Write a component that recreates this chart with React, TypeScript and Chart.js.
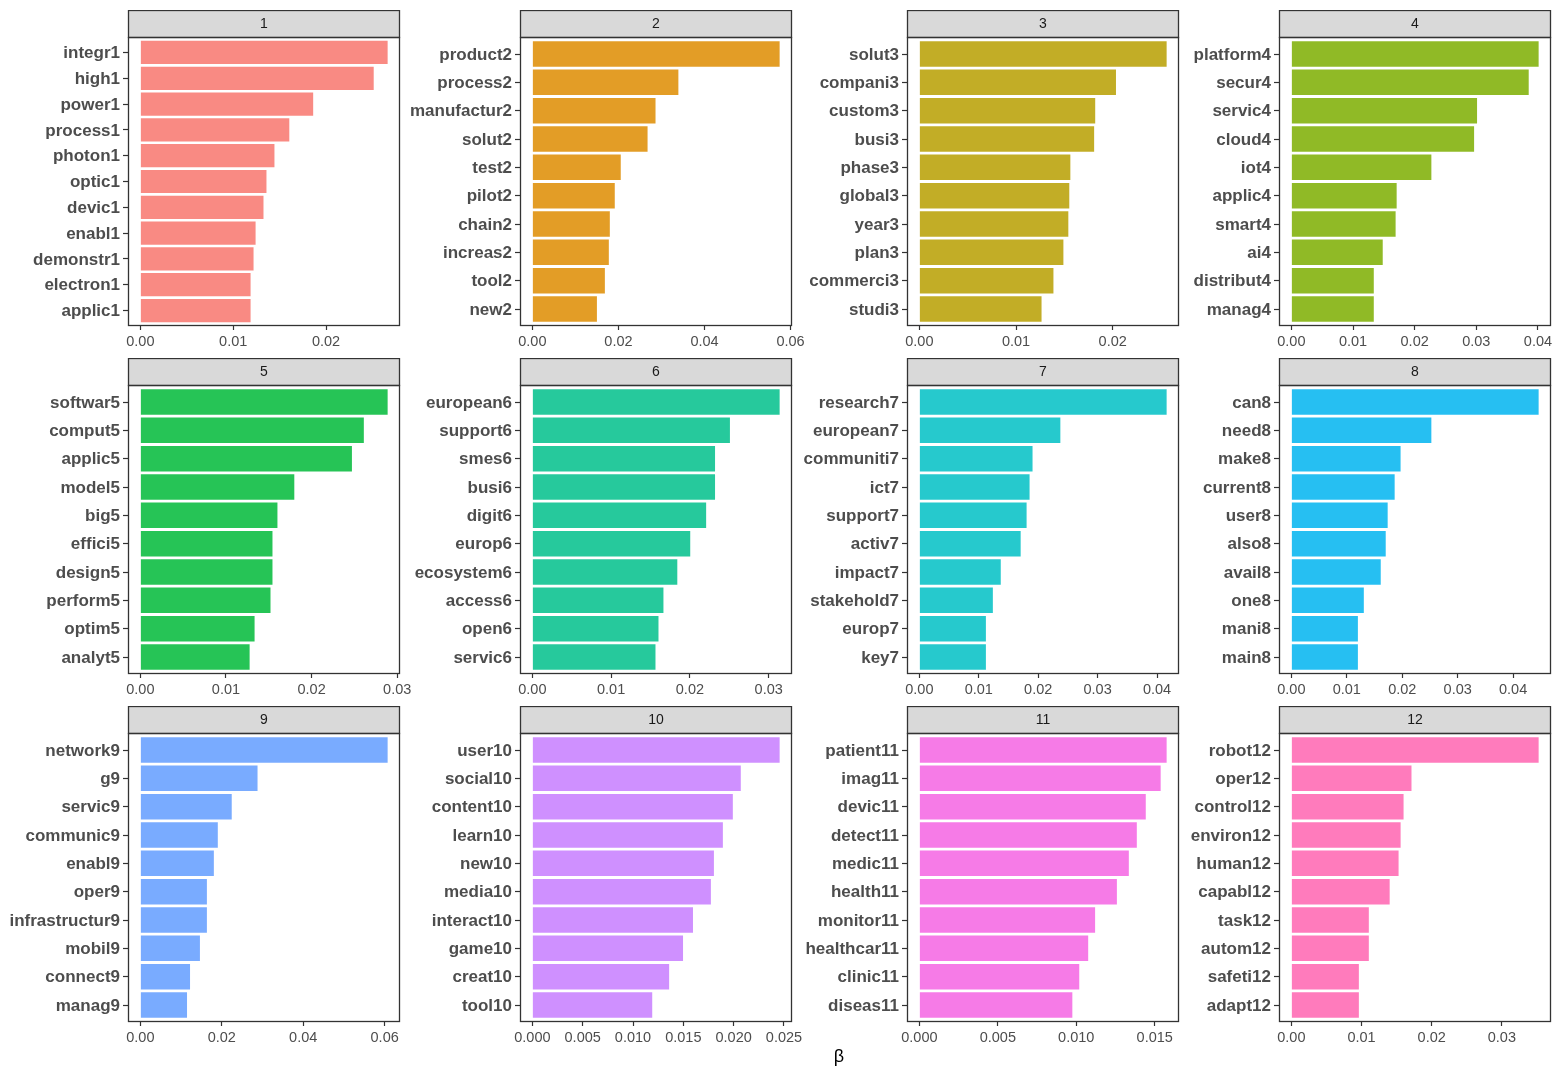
import React, { useEffect, useRef } from "react";
import { Chart, registerables } from "chart.js";
Chart.register(...registerables);

// ---------- data ----------
const topicNames = ["1", "2", "3", "4", "5", "6", "7", "8", "9", "10", "11", "12"];

const terms1 = ["integr1", "high1", "power1", "process1", "photon1", "optic1", "devic1", "enabl1", "demonstr1", "electron1", "applic1"];
const beta1 = [0.02663, 0.02513, 0.01861, 0.01604, 0.01444, 0.01358, 0.01326, 0.01241, 0.01219, 0.01187, 0.01187];

const terms2 = ["product2", "process2", "manufactur2", "solut2", "test2", "pilot2", "chain2", "increas2", "tool2", "new2"];
const beta2 = [0.05746, 0.03393, 0.02862, 0.02677, 0.02054, 0.01915, 0.018, 0.01777, 0.01685, 0.015];

const terms3 = ["solut3", "compani3", "custom3", "busi3", "phase3", "global3", "year3", "plan3", "commerci3", "studi3"];
const beta3 = [0.02558, 0.02034, 0.01819, 0.01808, 0.01562, 0.01551, 0.01541, 0.0149, 0.01387, 0.01264];

const terms4 = ["platform4", "secur4", "servic4", "cloud4", "iot4", "applic4", "smart4", "ai4", "distribut4", "manag4"];
const beta4 = [0.04011, 0.0385, 0.03012, 0.02964, 0.02271, 0.01708, 0.01691, 0.01482, 0.01337, 0.01337];

const terms5 = ["softwar5", "comput5", "applic5", "model5", "big5", "effici5", "design5", "perform5", "optim5", "analyt5"];
const beta5 = [0.02888, 0.0261, 0.02471, 0.01798, 0.01601, 0.01543, 0.01543, 0.0152, 0.01334, 0.01276];

const terms6 = ["european6", "support6", "smes6", "busi6", "digit6", "europ6", "ecosystem6", "access6", "open6", "servic6"];
const beta6 = [0.03139, 0.02508, 0.02319, 0.02319, 0.02206, 0.02004, 0.0184, 0.01664, 0.01601, 0.01563];

const terms7 = ["research7", "european7", "communiti7", "ict7", "support7", "activ7", "impact7", "stakehold7", "europ7", "key7"];
const beta7 = [0.04162, 0.02373, 0.01905, 0.01855, 0.01805, 0.01705, 0.0137, 0.01237, 0.0112, 0.0112];

const terms8 = ["can8", "need8", "make8", "current8", "user8", "also8", "avail8", "one8", "mani8", "main8"];
const beta8 = [0.0446, 0.02525, 0.0197, 0.01863, 0.01737, 0.01702, 0.01612, 0.01307, 0.012, 0.012];

const terms9 = ["network9", "g9", "servic9", "communic9", "enabl9", "oper9", "infrastructur9", "mobil9", "connect9", "manag9"];
const beta9 = [0.06073, 0.02878, 0.02244, 0.01902, 0.01805, 0.01634, 0.01634, 0.01463, 0.0122, 0.01146];

const terms10 = ["user10", "social10", "content10", "learn10", "new10", "media10", "interact10", "game10", "creat10", "tool10"];
const beta10 = [0.02457, 0.02071, 0.01992, 0.01893, 0.01804, 0.01774, 0.01596, 0.01497, 0.01359, 0.01191];

const terms11 = ["patient11", "imag11", "devic11", "detect11", "medic11", "health11", "monitor11", "healthcar11", "clinic11", "diseas11"];
const beta11 = [0.01576, 0.01538, 0.01443, 0.01386, 0.01335, 0.01259, 0.0112, 0.01076, 0.01019, 0.00975];

const terms12 = ["robot12", "oper12", "control12", "environ12", "human12", "capabl12", "task12", "autom12", "safeti12", "adapt12"];
const beta12 = [0.03524, 0.01712, 0.01599, 0.01557, 0.01528, 0.01401, 0.01104, 0.01104, 0.00962, 0.00962];

const ticks1 = [0, 0.01, 0.02];
const ticks2 = [0, 0.02, 0.04, 0.06];
const ticks3 = [0, 0.01, 0.02];
const ticks4 = [0, 0.01, 0.02, 0.03, 0.04];
const ticks5 = [0, 0.01, 0.02, 0.03];
const ticks6 = [0, 0.01, 0.02, 0.03];
const ticks7 = [0, 0.01, 0.02, 0.03, 0.04];
const ticks8 = [0, 0.01, 0.02, 0.03, 0.04];
const ticks9 = [0, 0.02, 0.04, 0.06];
const ticks10 = [0, 0.005, 0.01, 0.015, 0.02, 0.025];
const ticks11 = [0, 0.005, 0.01, 0.015];
const ticks12 = [0, 0.01, 0.02, 0.03];

const tickDecimals = [2, 2, 2, 2, 2, 2, 2, 2, 2, 3, 3, 2];

const xAxisTitle = "β";

const fills = [
  "rgba(248,118,109,0.85)",
  "rgba(222,140,0,0.85)",
  "rgba(183,159,0,0.85)",
  "rgba(124,174,0,0.85)",
  "rgba(0,186,56,0.85)",
  "rgba(0,192,139,0.85)",
  "rgba(0,191,196,0.85)",
  "rgba(0,180,240,0.85)",
  "rgba(97,156,255,0.85)",
  "rgba(199,124,255,0.85)",
  "rgba(245,100,227,0.85)",
  "rgba(255,100,176,0.85)",
];

const allTerms = [terms1, terms2, terms3, terms4, terms5, terms6, terms7, terms8, terms9, terms10, terms11, terms12];
const allBeta = [beta1, beta2, beta3, beta4, beta5, beta6, beta7, beta8, beta9, beta10, beta11, beta12];
const allTicks = [ticks1, ticks2, ticks3, ticks4, ticks5, ticks6, ticks7, ticks8, ticks9, ticks10, ticks11, ticks12];

// ---------- layout ----------
const FONT = "'Liberation Sans', Arial, Helvetica, sans-serif";
const STRIP_H = 27;
const PANEL_H = 289;
const PANEL_W = 272;
const XAXIS_H = 30;
const PAD_R = 18;
const colPanelLeft = [128, 520, 907, 1279];
const colLabelW = [124, 115, 110, 97];
const rowStripTop = [10, 358, 706];

const decoPlugin = (title: string) => ({
  id: "panelDeco",
  afterDraw(chart: any) {
    const { ctx, chartArea: a } = chart;
    const w = a.right - a.left;
    ctx.save();
    // strip
    ctx.fillStyle = "#D9D9D9";
    ctx.fillRect(a.left, a.top - STRIP_H, w, STRIP_H);
    ctx.strokeStyle = "#333333";
    ctx.lineWidth = 1.3;
    ctx.strokeRect(a.left + 0.5, a.top - STRIP_H + 0.5, w - 1, STRIP_H);
    // panel border
    ctx.strokeRect(a.left + 0.5, a.top + 0.5, w - 1, a.bottom - a.top - 1);
    // strip text
    ctx.fillStyle = "#1A1A1A";
    ctx.font = `14px ${FONT}`;
    ctx.textAlign = "center";
    ctx.textBaseline = "middle";
    ctx.fillText(title, (a.left + a.right) / 2, a.top - STRIP_H / 2 + 1);
    ctx.restore();
  },
});

function Panel({ idx }: { idx: number }) {
  const ref = useRef<HTMLCanvasElement>(null);
  const r = Math.floor(idx / 4);
  const c = idx % 4;
  const wy = colLabelW[c];
  const width = wy + PANEL_W + PAD_R;
  const height = STRIP_H + PANEL_H + XAXIS_H;
  const left = colPanelLeft[c] - wy;
  const top = rowStripTop[r];

  useEffect(() => {
    if (!ref.current) return;
    const terms = allTerms[idx];
    const beta = allBeta[idx];
    const tickVals = allTicks[idx];
    const dec = tickDecimals[idx];
    const mx = Math.max(...beta);
    const n = terms.length;
    const xMin = -0.05 * mx;
    const xMax = 1.05 * mx;
    const yMin = -0.6;
    const yMax = n - 1 + 0.6;
    const chart = new Chart(ref.current, {
      type: "bar",
      data: {
        datasets: [
          {
            data: beta.map((v, i) => ({ x: v, y: i })),
            backgroundColor: fills[idx],
            borderWidth: 0,
            barPercentage: 0.9,
            categoryPercentage: 1.0,
          },
        ],
      },
      options: {
        animation: false,
        responsive: false,
        maintainAspectRatio: false,
        indexAxis: "y",
        events: [],
        layout: { padding: { top: STRIP_H, right: PAD_R, left: 0, bottom: 0 } },
        plugins: {
          legend: { display: false },
          tooltip: { enabled: false },
          title: { display: false },
        },
        scales: {
          x: {
            type: "linear",
            position: "bottom",
            bounds: "data",
            offset: false,
            min: xMin,
            max: xMax,
            afterBuildTicks: (s: any) => {
              s.ticks = tickVals.map((v) => ({ value: v }));
              s.min = xMin;
              s.max = xMax;
            },
            afterFit: (s: any) => {
              s.height = XAXIS_H;
            },
            ticks: {
              callback: (v: any) => Number(v).toFixed(dec),
              color: "#4D4D4D",
              font: { family: FONT, size: 14.5 },
              padding: 3,
              autoSkip: false,
              maxRotation: 0,
              minRotation: 0,
            },
            grid: {
              offset: false,
              drawOnChartArea: false,
              drawTicks: true,
              tickLength: 4,
              tickColor: "#333333",
              tickWidth: 1.2,
            },
            border: { display: false },
          },
          y: {
            type: "linear",
            reverse: true,
            bounds: "data",
            offset: false,
            min: yMin,
            max: yMax,
            afterBuildTicks: (s: any) => {
              s.ticks = terms.map((_, i) => ({ value: i }));
              s.min = yMin;
              s.max = yMax;
            },
            afterFit: (s: any) => {
              s.width = wy;
            },
            ticks: {
              callback: (v: any) => terms[Math.round(Number(v))] ?? "",
              color: "#4D4D4D",
              font: { family: FONT, size: 17, weight: "bold" },
              padding: 3,
              labelOffset: 1,
              autoSkip: false,
            },
            grid: {
              offset: false,
              drawOnChartArea: false,
              drawTicks: true,
              tickLength: 5,
              tickColor: "#333333",
              tickWidth: 1.2,
            },
            border: { display: false },
          },
        },
      } as any,
      plugins: [decoPlugin(topicNames[idx])],
    });
    return () => chart.destroy();
  }, [idx]);

  return (
    <canvas
      ref={ref}
      width={width}
      height={height}
      style={{ position: "absolute", left, top, width, height }}
    />
  );
}

export default function App() {
  return (
    <div
      style={{
        position: "absolute",
        left: 0,
        top: 0,
        width: 1560,
        height: 1080,
        background: "#FFFFFF",
        overflow: "hidden",
      }}
    >
      {topicNames.map((_, i) => (
        <Panel key={i} idx={i} />
      ))}
      <div
        style={{
          position: "absolute",
          left: 839,
          top: 1046,
          transform: "translateX(-50%)",
          fontFamily: FONT,
          fontSize: 18,
          color: "#000000",
          whiteSpace: "nowrap",
        }}
      >
        {xAxisTitle}
      </div>
    </div>
  );
}
